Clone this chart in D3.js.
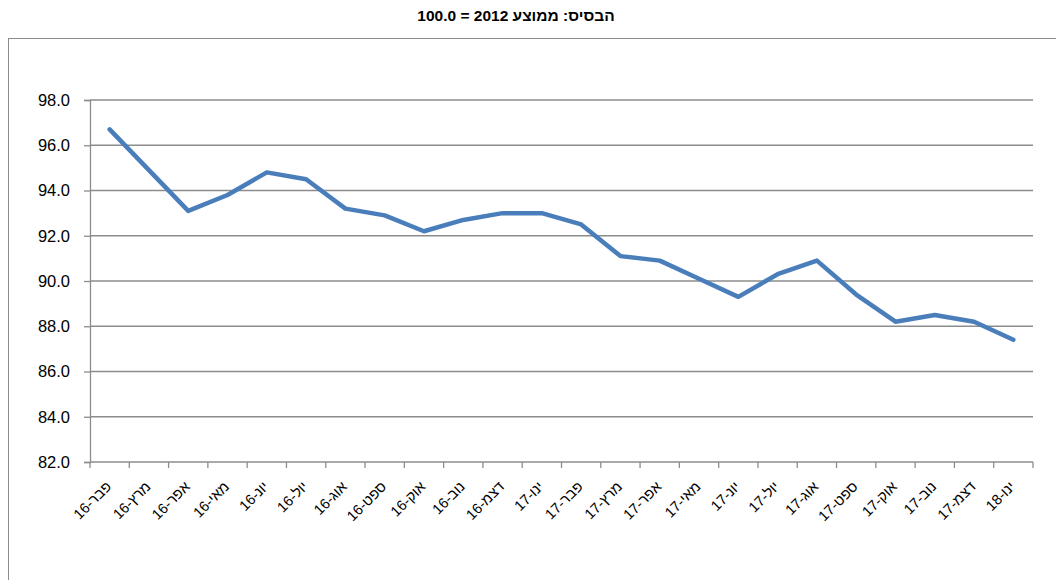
<!DOCTYPE html>
<html><head><meta charset="utf-8">
<script src="https://cdn.jsdelivr.net/npm/d3@7"></script>
<style>body{margin:0;background:#fff}svg{display:block}text{font-family:"Liberation Sans",Arial,sans-serif}</style>
</head><body><svg id="c" width="1056" height="580"></svg>
<script>
const categories = ["פבר-16","מרץ-16","אפר-16","מאי-16","יונ-16","יול-16","אוג-16","ספט-16","אוק-16","נוב-16","דצמ-16","ינו-17","פבר-17","מרץ-17","אפר-17","מאי-17","יונ-17","יול-17","אוג-17","ספט-17","אוק-17","נוב-17","דצמ-17","ינו-18"];
const values = [96.7,94.9,93.1,93.8,94.8,94.5,93.2,92.9,92.2,92.7,93.0,93.0,92.5,91.1,90.9,90.1,89.3,90.3,90.9,89.4,88.2,88.5,88.2,87.4];
const yTicks = [82,84,86,88,90,92,94,96,98];
const title = "הבסיס: ממוצע 2012 = 100.0";

const svg = d3.select("#c");
const L = 90, R = 1033, T = 100, B = 462;
const x = d3.scaleBand().domain(categories).range([L, R]);
const y = d3.scaleLinear().domain([82, 98]).range([B, T]);

svg.append("rect").attr("x", 8.5).attr("y", 38.5).attr("width", 1100).attr("height", 600)
  .attr("fill", "none").attr("stroke", "#8c8c8c").attr("stroke-width", 1);

svg.append("text").attr("x", 516).attr("y", 21).attr("text-anchor", "middle")
  .attr("direction", "rtl").attr("font-weight", "bold").attr("font-size", 15.5).text(title);

// gridlines
svg.append("g").selectAll("line").data(yTicks.filter(d => d !== 82)).join("line")
  .attr("x1", L).attr("x2", R).attr("y1", d => y(d)).attr("y2", d => y(d))
  .attr("stroke", "#8c8c8c").attr("stroke-width", 1.3);

// y axis
const ya = svg.append("g").attr("transform", `translate(${L},0)`)
  .call(d3.axisLeft(y).tickValues(yTicks).tickSize(6).tickPadding(14).tickFormat(d3.format(".1f")));
ya.select(".domain").attr("stroke", "#8c8c8c").attr("stroke-width", 1.3);
ya.selectAll(".tick line").attr("stroke", "#8c8c8c").attr("stroke-width", 1.3);
ya.selectAll("text").attr("font-size", 16.5).attr("fill", "#000").attr("font-family", '"Liberation Sans",Arial,sans-serif');

// x axis (ticks at category boundaries)
const bounds = categories.map(c => x(c)).concat([R]);
const xa = svg.append("g");
xa.append("line").attr("x1", L).attr("x2", R).attr("y1", B).attr("y2", B)
  .attr("stroke", "#8c8c8c").attr("stroke-width", 1.3);
xa.selectAll("line.t").data(bounds).join("line").attr("class", "t")
  .attr("x1", d => d).attr("x2", d => d).attr("y1", B).attr("y2", B + 6)
  .attr("stroke", "#8c8c8c").attr("stroke-width", 1.3);
xa.selectAll("text").data(categories).join("text")
  .attr("transform", d => `translate(${x(d) + x.bandwidth() / 2 - 1},${B + 22}) rotate(-45)`)
  .attr("text-anchor", "end").attr("font-size", 14.5).attr("dy", "0.35em").text(d => d);

// line
const line = d3.line().x((d, i) => x(categories[i]) + x.bandwidth() / 2).y(d => y(d));
svg.append("path").datum(values).attr("d", line).attr("fill", "none")
  .attr("stroke", "#4a7ebb").attr("stroke-width", 4.5).attr("stroke-linejoin", "round").attr("stroke-linecap", "round");
</script></body></html>
